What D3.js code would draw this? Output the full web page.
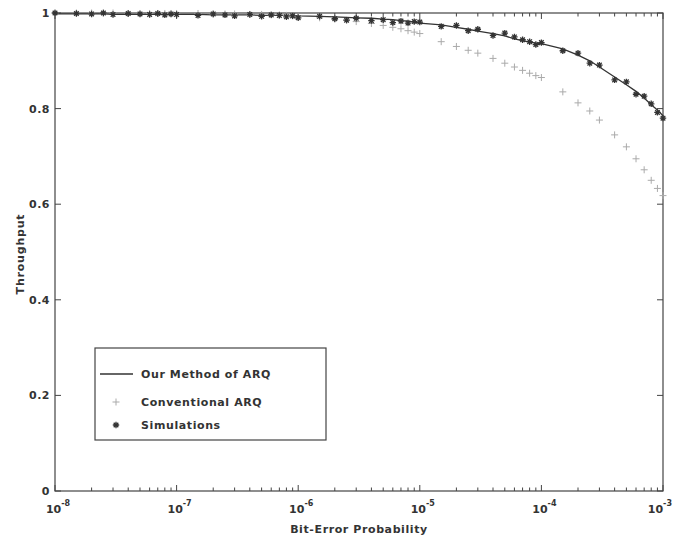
<!DOCTYPE html>
<html>
<head>
<meta charset="utf-8">
<script src="https://cdn.jsdelivr.net/npm/d3@7"></script>
<style>
  body { margin: 0; background: #fff; }
  text { font-family: "DejaVu Sans", sans-serif; font-weight: bold; fill: #333; }
</style>
</head>
<body>
<div id="chart"></div>
<script>
// bit-error probabilities where the curves were evaluated
var ber = [
  1e-8, 1.5e-8, 2e-8, 2.5e-8, 3e-8, 4e-8, 5e-8, 6e-8, 7e-8, 8e-8, 9e-8,
  1e-7, 1.5e-7, 2e-7, 2.5e-7, 3e-7, 4e-7, 5e-7, 6e-7, 7e-7, 8e-7, 9e-7,
  1e-6, 1.5e-6, 2e-6, 2.5e-6, 3e-6, 4e-6, 5e-6, 6e-6, 7e-6, 8e-6, 9e-6,
  1e-5, 1.5e-5, 2e-5, 2.5e-5, 3e-5, 4e-5, 5e-5, 6e-5, 7e-5, 8e-5, 9e-5,
  1e-4, 1.5e-4, 2e-4, 2.5e-4, 3e-4, 4e-4, 5e-4, 6e-4, 7e-4, 8e-4, 9e-4,
  1e-3
];
var ourMethod = [
  0.998, 0.998, 0.998, 0.998, 0.997, 0.997, 0.997, 0.997, 0.997, 0.997, 0.997,
  0.997, 0.997, 0.996, 0.996, 0.996, 0.996, 0.995, 0.995, 0.995, 0.995, 0.995,
  0.994, 0.993, 0.992, 0.991, 0.990, 0.989, 0.987, 0.986, 0.984, 0.983, 0.981,
  0.979, 0.975, 0.970, 0.966, 0.962, 0.957, 0.952, 0.946, 0.942, 0.939, 0.937,
  0.936, 0.925, 0.912, 0.900, 0.887, 0.866, 0.850, 0.836, 0.822, 0.808, 0.797,
  0.785
];
var conventional = [
  1.000, 1.000, 1.000, 1.000, 1.000, 0.999, 0.999, 0.999, 0.999, 0.999, 0.999,
  0.999, 0.999, 0.998, 0.998, 0.998, 0.997, 0.997, 0.996, 0.996, 0.995, 0.994,
  0.993, 0.990, 0.987, 0.985, 0.982, 0.978, 0.974, 0.970, 0.967, 0.963, 0.960,
  0.957, 0.940, 0.930, 0.922, 0.916, 0.905, 0.895, 0.887, 0.880, 0.874, 0.869,
  0.865, 0.835, 0.812, 0.795, 0.776, 0.745, 0.720, 0.695, 0.672, 0.650, 0.633,
  0.618
];
var simulations = [
  1.000, 0.999, 0.998, 1.000, 0.997, 0.999, 0.998, 0.997, 0.999, 0.996, 0.998,
  0.997, 0.995, 0.998, 0.996, 0.994, 0.997, 0.993, 0.996, 0.995, 0.992, 0.994,
  0.990, 0.993, 0.988, 0.985, 0.989, 0.984, 0.986, 0.980, 0.983, 0.979, 0.982,
  0.981, 0.972, 0.974, 0.963, 0.966, 0.953, 0.958, 0.950, 0.944, 0.940, 0.934,
  0.938, 0.921, 0.916, 0.895, 0.891, 0.860, 0.856, 0.830, 0.826, 0.810, 0.792,
  0.780
];
var yTicks = [0, 0.2, 0.4, 0.6, 0.8, 1];
var yTickLabels = ["0", "0.2", "0.4", "0.6", "0.8", "1"];
var xMajor = [1e-8, 1e-7, 1e-6, 1e-5, 1e-4, 1e-3];
var xMajorExp = ["-8", "-7", "-6", "-5", "-4", "-3"];
var legendLabels = ["Our Method of ARQ", "Conventional ARQ", "Simulations"];

var margin = {top: 13, right: 10, bottom: 47, left: 55},
  width = 673 - margin.left - margin.right,
  height = 538 - margin.top - margin.bottom;

var svg = d3.select("#chart").append("svg")
  .attr("width", 673).attr("height", 538)
  .append("g")
  .attr("transform", "translate(" + margin.left + "," + margin.top + ")");

var x = d3.scaleLog().domain([1e-8, 1e-3]).range([0, width]);
var y = d3.scaleLinear().domain([0, 1]).range([height, 0]);

var axisColor = "#444";
var allXTicks = x.ticks();

// frame
svg.append("rect")
  .attr("width", width).attr("height", height)
  .attr("fill", "none").attr("stroke", axisColor).attr("stroke-width", 1.2);

// x ticks (inside, bottom and top)
function xTickLen(d) { return xMajor.indexOf(d) >= 0 ? 6 : 3.5; }
[height, 0].forEach(function(base) {
  var dir = base === 0 ? 1 : -1;
  svg.selectAll(null).data(allXTicks).enter().append("line")
    .attr("x1", d => x(d)).attr("x2", d => x(d))
    .attr("y1", base).attr("y2", d => base + dir * xTickLen(d))
    .attr("stroke", axisColor);
});
// y ticks (inside, left and right)
[0, width].forEach(function(base) {
  var dir = base === 0 ? 1 : -1;
  svg.selectAll(null).data(yTicks).enter().append("line")
    .attr("y1", d => y(d)).attr("y2", d => y(d))
    .attr("x1", base).attr("x2", base + dir * 6)
    .attr("stroke", axisColor);
});

// y labels
svg.selectAll(null).data(yTicks).enter().append("text")
  .attr("x", -5).attr("y", d => y(d) + 4)
  .attr("text-anchor", "end").style("font-size", "11px").style("letter-spacing", "0.5px")
  .text((d, i) => yTickLabels[i]);

// x labels with superscript exponents (last one kept inside the page)
var lastI = xMajor.length - 1;
var xl = svg.selectAll(null).data(xMajor).enter().append("text")
  .attr("x", (d, i) => i === lastI ? width + margin.right - 1 : x(d) + 3)
  .attr("y", height + 22)
  .attr("text-anchor", (d, i) => i === lastI ? "end" : "middle")
  .style("font-size", "11px");
xl.append("tspan").text("10");
xl.append("tspan").attr("dy", -7).style("font-size", "8px")
  .text((d, i) => xMajorExp[i]);

// axis titles
svg.append("text")
  .attr("x", width / 2).attr("y", height + 42)
  .attr("text-anchor", "middle").style("font-size", "11px").style("letter-spacing", "0.6px")
  .text("Bit-Error Probability");
svg.append("text")
  .attr("transform", "translate(" + (-31) + "," + (height / 2 + 2) + ") rotate(-90)")
  .attr("text-anchor", "middle").style("font-size", "11px").style("letter-spacing", "0.8px")
  .text("Throughput");

// our method line
var line = d3.line().x((d, i) => x(ber[i])).y(d => y(d));
svg.append("path").datum(ourMethod)
  .attr("d", line).attr("fill", "none")
  .attr("stroke", "#333").attr("stroke-width", 1.3);

// marker helpers
function plus(g, cx, cy, s, color) {
  g.append("path")
    .attr("d", "M" + (cx - s) + "," + cy + "H" + (cx + s) + "M" + cx + "," + (cy - s) + "V" + (cy + s))
    .attr("stroke", color).attr("stroke-width", 1).attr("fill", "none");
}
function star(g, cx, cy, s, color) {
  var k = s * 0.72;
  g.append("path")
    .attr("d", "M" + (cx - s) + "," + cy + "H" + (cx + s) +
      "M" + cx + "," + (cy - s) + "V" + (cy + s) +
      "M" + (cx - k) + "," + (cy - k) + "L" + (cx + k) + "," + (cy + k) +
      "M" + (cx - k) + "," + (cy + k) + "L" + (cx + k) + "," + (cy - k))
    .attr("stroke", color).attr("stroke-width", 1.3).attr("fill", "none");
}

var convG = svg.append("g");
conventional.forEach(function(v, i) { plus(convG, x(ber[i]), y(v), 3.5, "#aaa"); });
var simG = svg.append("g");
simulations.forEach(function(v, i) { star(simG, x(ber[i]), y(v), 3.2, "#333"); });

// legend
var lg = svg.append("g").attr("transform", "translate(" + (95 - margin.left) + "," + (348 - margin.top) + ")");
lg.append("rect").attr("width", 231).attr("height", 92)
  .attr("fill", "#fff").attr("stroke", axisColor).attr("stroke-width", 1.2);
var rows = [26, 54, 77];
lg.append("line").attr("x1", 5).attr("x2", 38).attr("y1", rows[0]).attr("y2", rows[0])
  .attr("stroke", "#333").attr("stroke-width", 1.3);
plus(lg, 21, rows[1], 3.5, "#aaa");
star(lg, 21, rows[2], 3.2, "#333");
lg.selectAll(null).data(legendLabels).enter().append("text")
  .attr("x", 46).attr("y", (d, i) => rows[i] + 4)
  .style("font-size", "11px").style("letter-spacing", "0.6px")
  .text(d => d);
</script>
</body>
</html>
